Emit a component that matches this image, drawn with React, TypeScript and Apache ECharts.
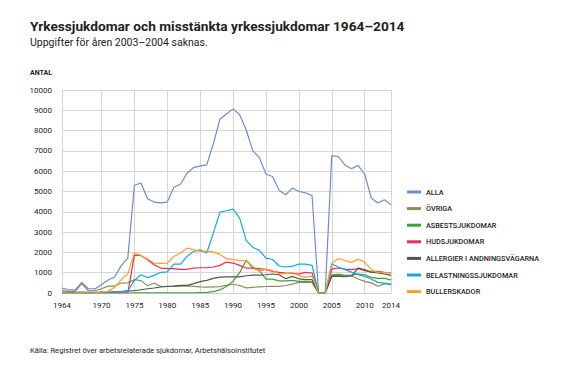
import React, { useEffect, useRef } from "react";
import * as echarts from "echarts";

const years: string[] = [];
for (let y = 1964; y <= 2014; y++) years.push(String(y));

const xTickLabels = ["1964", "1970", "1975", "1980", "1985", "1990", "1995", "2000", "2005", "2010", "2014"];

const seriesNames = [
  "ALLA",
  "ÖVRIGA",
  "ASBESTSJUKDOMAR",
  "HUDSJUKDOMAR",
  "ALLERGIER I ANDNINGSVÄGARNA",
  "BELASTNINGSSJUKDOMAR",
  "BULLERSKADOR",
];

const seriesColors = ["#6b8fd4", "#8f8a5c", "#3da23a", "#ee2b50", "#555555", "#0fa9e6", "#ff9c2a"];

const alla = [
  240, 160, 150, 520, 210, 200, 410, 640, 790, 1350, 1720,
  5310, 5420, 4640, 4480, 4440, 4480, 5210, 5360, 5900, 6180,
  6260, 6310, 7350, 8560, 8820, 9070, 8780, 8030, 7000, 6670,
  5850, 5740, 5050, 4840, 5170, 5000, 4930, 4800, 0, 0,
  6770, 6720, 6310, 6120, 6290, 5850, 4680, 4430, 4590, 4340,
];
const ovriga = [
  120, 80, 80, 460, 110, 110, 210, 340, 340, 490, 500,
  660, 610, 360, 480, 330, 320, 330, 340, 350, 330,
  300, 290, 300, 310, 380, 430, 370, 250, 280, 300,
  320, 330, 330, 370, 440, 520, 520, 520, 0, 0,
  900, 930, 880, 850, 690, 570, 500, 330, 450, 450,
];
const asbest = [
  0, 0, 0, 0, 0, 0, 0, 0, 0, 0, 0,
  10, 10, 10, 10, 10, 10, 10, 10, 10, 10,
  20, 30, 70, 150, 320, 580, 1000, 1620, 1230, 1100,
  680, 680, 600, 600, 620, 570, 570, 540, 0, 0,
  870, 870, 840, 880, 930, 900, 770, 720, 720, 650,
];
const hud = [
  0, 0, 0, 0, 0, 0, 0, 0, 0, 0, 0,
  1850, 1850, 1640, 1390, 1230, 1200, 1200, 1165, 1165, 1230,
  1245, 1245, 1280, 1360, 1525, 1475, 1360, 1230, 1230, 1200,
  1150, 1065, 1015, 985, 967, 935, 1015, 985, 0, 0,
  1180, 1230, 1180, 1150, 1200, 1100, 1030, 1065, 1015, 985,
];
const allergier = [
  30, 30, 30, 40, 30, 30, 40, 50, 60, 70, 100,
  110, 160, 210, 245, 295, 330, 340, 375, 375, 460,
  560, 620, 720, 780, 790, 790, 790, 850, 885, 885,
  900, 935, 900, 700, 820, 700, 655, 655, 0, 0,
  820, 820, 800, 840, 1230, 1150, 1030, 985, 935, 870,
];
const belastning = [
  10, 10, 10, 20, 10, 10, 20, 30, 50, 70, 100,
  620, 900, 760, 870, 1020, 1040, 1420, 1420, 1800, 2050,
  2130, 1970, 2950, 3980, 4050, 4130, 3690, 2590, 2250, 2100,
  1720, 1650, 1330, 1280, 1320, 1420, 1420, 1360, 0, 0,
  1425, 1280, 1150, 1030, 900, 820, 690, 525, 490, 410,
];
const buller = [
  0, 0, 0, 10, 0, 10, 50, 80, 280, 660, 940,
  1970, 1840, 1670, 1475, 1460, 1475, 1800, 1970, 2210, 2130,
  2050, 2060, 2015, 1900, 1690, 1640, 1600, 1600, 1310, 1065,
  1180, 1100, 950, 950, 1000, 870, 770, 835, 0, 0,
  1475, 1690, 1600, 1510, 1670, 1525, 1150, 1015, 1015, 985,
];

const seriesData = [alla, ovriga, asbest, hud, allergier, belastning, buller];

const titleText = "Yrkessjukdomar och misstänkta yrkessjukdomar 1964–2014";
const subtitleText = "Uppgifter för åren 2003–2004 saknas.";
const yAxisTitle = "ANTAL";
const sourceText = "Källa: Registret över arbetsrelaterade sjukdomar, Arbetshälsoinstitutet";

const FONT = "Roboto, 'Liberation Sans', sans-serif";

export default function App() {
  const ref = useRef<HTMLDivElement>(null);

  useEffect(() => {
    document.body.style.margin = "0";
    if (!ref.current) return;
    const chart = echarts.init(ref.current, undefined, { renderer: "svg" });
    const showTick = (_i: number, v: string) => xTickLabels.includes(v);
    chart.setOption({
      animation: false,
      backgroundColor: "#ffffff",
      textStyle: { fontFamily: FONT },
      grid: { left: 62, right: 176, top: 90, bottom: 77, containLabel: false },
      xAxis: {
        type: "category",
        data: years,
        boundaryGap: false,
        axisLine: { show: true, lineStyle: { color: "#cfcfcf", width: 1 } },
        axisTick: { show: false },
        axisLabel: {
          interval: showTick,
          color: "#222",
          fontSize: 8,
          fontFamily: FONT,
          margin: 8,
        },
        splitLine: { show: true, interval: showTick, lineStyle: { color: "#d6d6d6", width: 1 } },
      },
      yAxis: {
        type: "value",
        min: 0,
        max: 10000,
        interval: 1000,
        axisLine: { show: false },
        axisTick: { show: false },
        axisLabel: {
          color: "#222",
          fontSize: 8,
          fontFamily: FONT,
          margin: 10,
          formatter: (v: number) => String(v),
        },
        splitLine: { show: true, lineStyle: { color: "#d6d6d6", width: 1 } },
      },
      legend: {
        orient: "vertical",
        left: 402,
        top: 182,
        itemWidth: 14,
        itemHeight: 3,
        itemGap: 6.6,
        icon: "rect",
        data: seriesNames,
        textStyle: { fontSize: 7.3, color: "#222", fontFamily: FONT, lineHeight: 10, fontWeight: 500 },
      },
      graphic: [
        {
          type: "text",
          left: 30,
          top: 19,
          style: { text: titleText, fontSize: 13.7, fontWeight: "bold", fontFamily: FONT, fill: "#222" },
        },
        {
          type: "text",
          left: 30,
          top: 37,
          style: { text: subtitleText, fontSize: 10.5, fontFamily: FONT, fill: "#222" },
        },
        {
          type: "text",
          left: 30,
          top: 69,
          style: { text: yAxisTitle, fontSize: 7, fontWeight: "bold", fontFamily: FONT, fill: "#222" },
        },
        {
          type: "text",
          left: 30,
          top: 346,
          style: { text: sourceText, fontSize: 7.6, fontFamily: FONT, fill: "#222" },
        },
      ],
      series: seriesNames.map((name, i) => ({
        name,
        type: "line",
        data: seriesData[i],
        showSymbol: false,
        symbol: "none",
        color: seriesColors[i],
        lineStyle: { width: 1.2, color: seriesColors[i] },
      })),
    });
    return () => chart.dispose();
  }, []);

  return <div ref={ref} style={{ width: 567, height: 370 }} />;
}
